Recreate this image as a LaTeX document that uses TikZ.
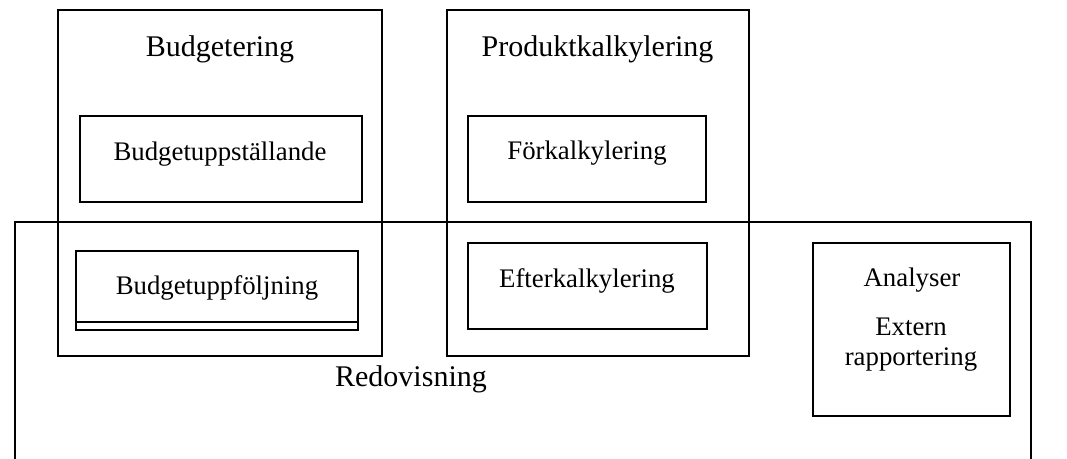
\documentclass[tikz,border=0pt]{standalone}
\usepackage{fontspec}
\setmainfont{Liberation Serif}
\usetikzlibrary{positioning}

\tikzset{
  frame/.style={draw, line width=0.8pt},
  head/.style={anchor=base, inner sep=0pt, font=\fontsize{15}{18}\selectfont},
  item/.style={anchor=base, inner sep=0pt, font=\fontsize{13.4}{16}\selectfont},
}

\begin{document}
\begin{tikzpicture}[x=0.5pt,y=-0.5pt]
\useasboundingbox (0,0) rectangle (1067,459);
% Redovisning
\draw[frame] (15,222) rectangle (1031,459.6);
\node[head] (redo) at (411,387) {Redovisning};
% Budgetering
\draw[frame] (58,10) rectangle (382,356);
\node[head] (budg) at (220,57) {Budgetering};
\draw[frame] (80,116) rectangle (362,202);
\node[item] (upst) at (220,160.5) {Budgetuppställande};
\draw[frame] (76,251) rectangle (358,330);
\draw[line width=1.4pt] (76,322) -- (358,322);
\node[item] (uppf) at (217,295) {Budgetuppföljning};
% Produktkalkylering
\draw[frame] (447,10) rectangle (749,356);
\node[head] (prod) at (597.5,57) {Produktkalkylering};
\draw[frame] (468,116) rectangle (706,202);
\node[item] (fork) at (587,160) {Förkalkylering};
\draw[frame] (468,243) rectangle (707,329);
\node[item] (efte) at (587,288) {Efterkalkylering};
% Analyser
\draw[frame] (813,243) rectangle (1010,416);
\node[item] (anal) at (912,287) {Analyser};
\node[item] (ext) at (911,336) {Extern};
\node[item] (rapp) at (911,366) {rapportering};
\end{tikzpicture}
\end{document}
